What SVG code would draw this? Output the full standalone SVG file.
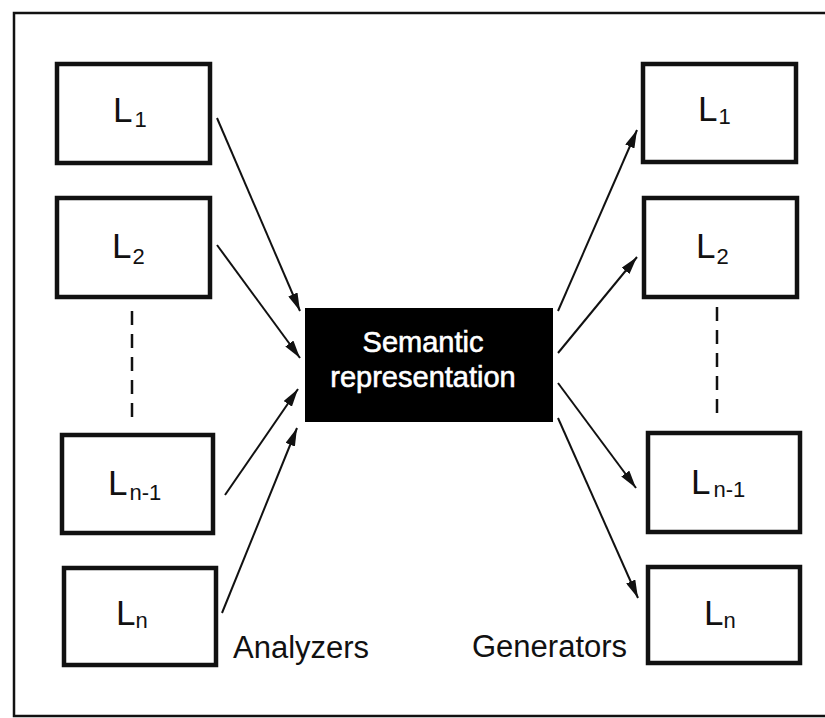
<svg xmlns="http://www.w3.org/2000/svg" width="825" height="718" viewBox="0 0 825 718">
<style>
  .frame{fill:none;stroke:#111;stroke-width:2.5}
  .box{fill:#fff;stroke:#111;stroke-width:4.5}
  .lab{font-family:"Liberation Sans",Arial,sans-serif;fill:#111}
  .big{font-size:35px}
  .sub{font-size:22px}
  .cap{font-family:"Liberation Sans",Arial,sans-serif;font-size:31px;fill:#111}
  .sem{font-family:"Liberation Sans",Arial,sans-serif;font-size:29px;fill:#fff;stroke:#fff;stroke-width:0.6;text-anchor:middle}
  .conn{stroke:#111;stroke-width:2;fill:none}
  .dash{stroke:#111;stroke-width:2.5;stroke-dasharray:14 9;fill:none}
</style>
<defs>
  <marker id="ah" viewBox="0 0 18 10" refX="18" refY="5" markerWidth="18" markerHeight="10" markerUnits="userSpaceOnUse" orient="auto">
    <path d="M0,0 L18,5 L0,10 Z" fill="#111"/>
  </marker>
</defs>
<rect width="825" height="718" fill="#fff"/>
<rect class="frame" x="14" y="13" width="830" height="703"/>

<g id="left-L1"><rect class="box" x="57" y="64" width="153" height="99"/><text class="lab" x="113" y="122"><tspan class="big">L</tspan><tspan class="sub" dx="2" dy="5">1</tspan></text></g>
<g id="left-L2"><rect class="box" x="57" y="198" width="153" height="99"/><text class="lab" x="112" y="258"><tspan class="big">L</tspan><tspan class="sub" dx="1" dy="6">2</tspan></text></g>
<g id="left-Ln1"><rect class="box" x="62" y="435" width="151" height="98"/><text class="lab" x="108" y="495"><tspan class="big">L</tspan><tspan class="sub" dx="2" dy="5">n-1</tspan></text></g>
<g id="left-Ln"><rect class="box" x="64" y="568" width="152" height="97"/><text class="lab" x="116" y="625"><tspan class="big">L</tspan><tspan class="sub" dx="0" dy="3">n</tspan></text></g>

<g id="right-L1"><rect class="box" x="643" y="64" width="153" height="98"/><text class="lab" x="698" y="121"><tspan class="big">L</tspan><tspan class="sub" dx="1" dy="3">1</tspan></text></g>
<g id="right-L2"><rect class="box" x="644" y="198" width="153" height="99"/><text class="lab" x="696" y="258"><tspan class="big">L</tspan><tspan class="sub" dx="1" dy="6">2</tspan></text></g>
<g id="right-Ln1"><rect class="box" x="648" y="433" width="152" height="99"/><text class="lab" x="691" y="494"><tspan class="big">L</tspan><tspan class="sub" dx="3" dy="3">n-1</tspan></text></g>
<g id="right-Ln"><rect class="box" x="648" y="567" width="152" height="96"/><text class="lab" x="704" y="625"><tspan class="big">L</tspan><tspan class="sub" dx="0" dy="3">n</tspan></text></g>

<g id="semantic"><rect x="305" y="308" width="248" height="114" fill="#000"/><text class="sem" x="423" y="352">Semantic</text><text class="sem" x="423" y="387">representation</text></g>

<g id="labels"><text class="cap" x="233" y="658">Analyzers</text><text class="cap" x="472" y="657">Generators</text></g>

<g id="connectors">
  <line class="conn" x1="217" y1="118" x2="300" y2="311" marker-end="url(#ah)"/>
  <line class="conn" x1="217" y1="245" x2="300" y2="358" marker-end="url(#ah)"/>
  <line class="conn" x1="225" y1="495" x2="298" y2="389" marker-end="url(#ah)"/>
  <line class="conn" x1="222" y1="613" x2="297" y2="428" marker-end="url(#ah)"/>
  <line class="conn" x1="558" y1="311" x2="637" y2="130" marker-end="url(#ah)"/>
  <line class="conn" x1="558" y1="353" x2="637" y2="257" marker-end="url(#ah)"/>
  <line class="conn" x1="558" y1="383" x2="636" y2="488" marker-end="url(#ah)"/>
  <line class="conn" x1="558" y1="418" x2="638" y2="598" marker-end="url(#ah)"/>
  <line class="dash" x1="132" y1="311" x2="132" y2="420"/>
  <line class="dash" x1="717" y1="307" x2="717" y2="420"/>
</g>
</svg>
